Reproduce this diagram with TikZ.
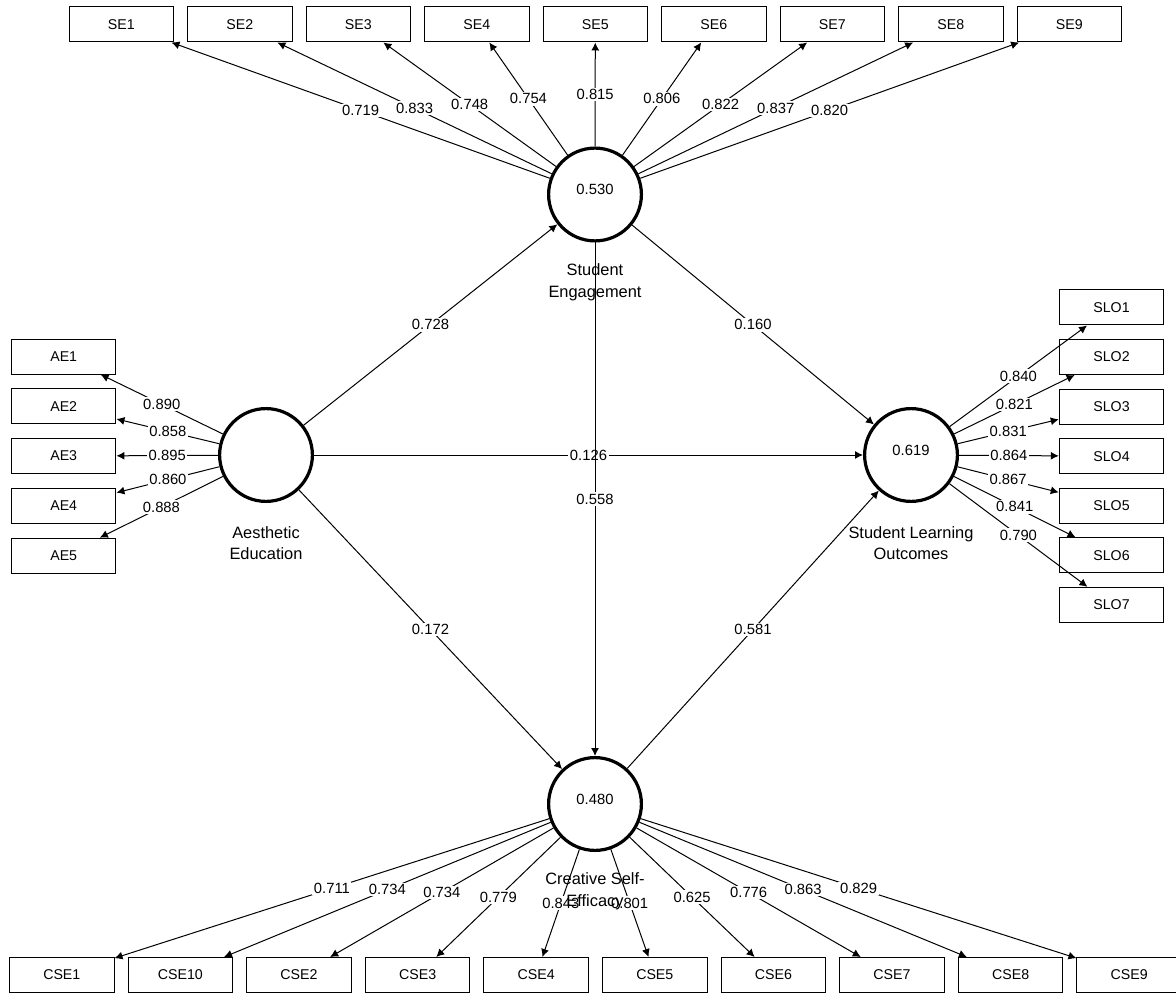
\documentclass[tikz,border=0pt]{standalone}
\usepackage{fontspec}
\setmainfont{Liberation Sans}
\usetikzlibrary{arrows.meta,calc}
\begin{document}
\begin{tikzpicture}[x=0.5pt,y=-0.5pt,
  lat/.style={circle, draw, line width=1.6pt, minimum size=46.4pt, inner sep=0pt},
  rsq/.style={font=\fontsize{7.4}{9}\selectfont, yshift=2.5pt},
  ind/.style={rectangle, draw, line width=0.5pt, minimum width=52.25pt, minimum height=17.5pt, inner sep=0pt, font=\fontsize{7.1}{8}\selectfont},
  ld/.style={-{Latex[length=4pt,width=4pt]}, line width=0.5pt},
  val/.style={fill=white, inner sep=0.8pt, font=\fontsize{7.4}{9}\selectfont},
  cname/.style={align=center, font=\fontsize{8.2}{10.8}\selectfont, inner sep=0pt}]
\useasboundingbox (0,0) rectangle (1176,994);
\begin{scope}
\clip (0,0) rectangle (1176,994);
% latent variables
\node[lat, label={[rsq]center:0.530}] (LSE) at (595,194.5) {};
\node[lat] (LAE) at (266,455) {};
\node[lat, label={[rsq]center:0.619}] (LSLO) at (911,455) {};
\node[lat, label={[rsq]center:0.480}] (LCSE) at (595,804) {};
% indicators
\foreach \i in {1,...,9}
  \node[ind] (SE\i) at ({121.3+118.5*(\i-1)},24.5) {SE\i};
\foreach \i in {1,...,5}
  \node[ind] (AE\i) at (63.7,{356.5+49.8*(\i-1)}) {AE\i};
\foreach \i in {1,...,7}
  \node[ind] (SLO\i) at (1111.5,{307.5+49.55*(\i-1)}) {SLO\i};
\foreach \n [count=\i from 0] in {1,10,2,3,4,5,6,7,8,9}
  \node[ind] (CSE\n) at ({61.8+118.6*\i},975) {CSE\n};
% outer loadings
\foreach \v [count=\i] in {0.719,0.833,0.748,0.754,0.815,0.806,0.822,0.837,0.820}
  \draw[ld] (LSE) -- node[val]{\v} (SE\i);
\foreach \v [count=\i] in {0.890,0.858,0.895,0.860,0.888}
  \draw[ld] (LAE) -- node[val]{\v} (AE\i);
\foreach \v [count=\i] in {0.840,0.821,0.831,0.864,0.867,0.841,0.790}
  \draw[ld] (LSLO) -- node[val]{\v} (SLO\i);
\foreach \n/\v in {1/0.711,10/0.734,2/0.734,3/0.779,4/0.843,5/0.801,6/0.625,7/0.776,8/0.863,9/0.829}
  \draw[ld] (LCSE) -- node[val]{\v} (CSE\n);
% structural paths
\draw[ld] (LAE) -- node[val]{0.728} (LSE);
\draw[ld] (LSE) -- node[val]{0.160} (LSLO);
\draw[ld] (LAE) -- node[val]{0.126} (LSLO);
\draw[ld] (LSE) -- node[val]{0.558} (LCSE);
\draw[ld] (LAE) -- node[val]{0.172} (LCSE);
\draw[ld] (LCSE) -- node[val]{0.581} (LSLO);
% construct names
\node[cname] (nSE) at ($(LSE)+(0,88)$) {Student\\Engagement};
\node[cname] (nAE) at ($(LAE)+(0,88)$) {Aesthetic\\Education};
\node[cname] (nSLO) at ($(LSLO)+(0,88)$) {Student Learning\\Outcomes};
\node[cname] (nCSE) at ($(LCSE)+(0,87)$) {Creative Self-\\Efficacy};
\end{scope}
\end{tikzpicture}
\end{document}
